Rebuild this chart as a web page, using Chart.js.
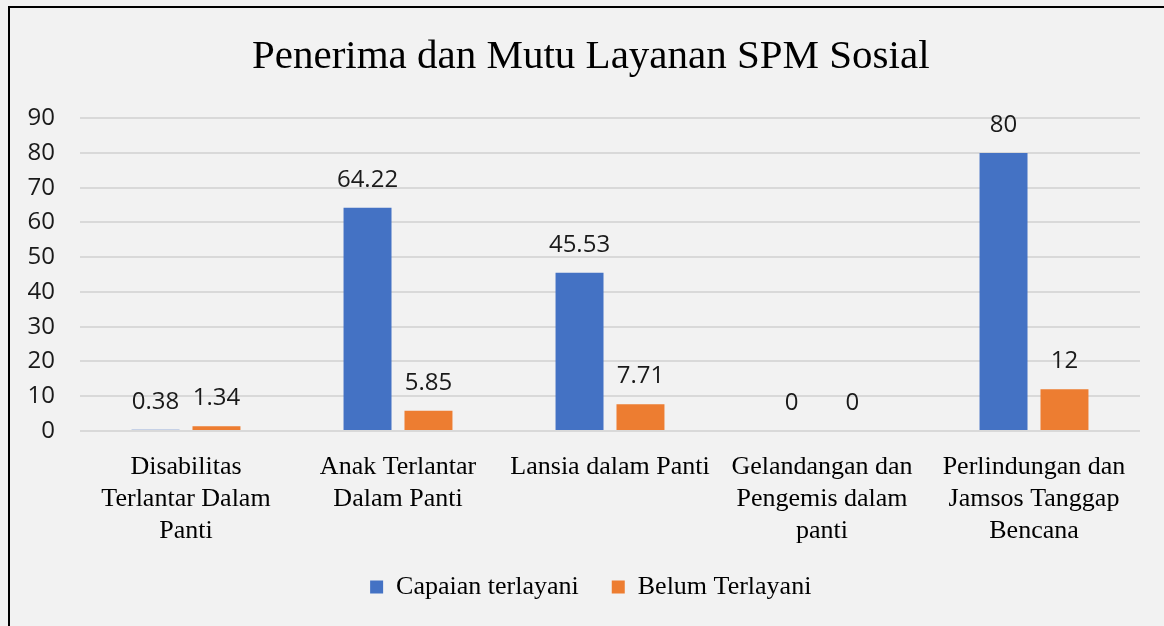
<!DOCTYPE html>
<html><head><meta charset="utf-8">
<script src="https://cdn.jsdelivr.net/npm/chart.js@4.4.1/dist/chart.umd.min.js"></script>
<style>
html,body{margin:0;padding:0;background:#f2f2f2;width:1164px;height:626px;overflow:hidden;}
#frame{position:absolute;left:8px;top:6px;width:1200px;height:700px;border-left:2px solid #000;border-top:2px solid #000;box-sizing:border-box;}
#wrap{position:absolute;left:10px;top:8px;width:1154px;height:618px;}
</style></head><body>
<div id="frame"></div>
<div id="wrap"><canvas id="c"></canvas></div>
<script>
const categories = [
  ["Disabilitas", "Terlantar Dalam", "Panti"],
  ["Anak Terlantar", "Dalam Panti"],
  ["Lansia dalam Panti"],
  ["Gelandangan dan", "Pengemis dalam", "panti"],
  ["Perlindungan dan", "Jamsos Tanggap", "Bencana"]
];
const seriesNames = ["Capaian terlayani", "Belum Terlayani"];
const capaianTerlayani = [0.38, 64.22, 45.53, 0, 80];
const belumTerlayani = [1.34, 5.85, 7.71, 0, 12];
const yTickValues = [0, 10, 20, 30, 40, 50, 60, 70, 80, 90];
const chartTitle = "Penerima dan Mutu Layanan SPM Sosial";

const valueLabels = {
  id: 'valueLabels',
  afterDatasetsDraw(chart) {
    const ctx = chart.ctx;
    ctx.save();
    ctx.font = '24px "Open Sans"';
    ctx.fillStyle = '#1a1a1a';
    ctx.textAlign = 'center';
    ctx.textBaseline = 'alphabetic';
    chart.data.datasets.forEach((ds, i) => {
      chart.getDatasetMeta(i).data.forEach((bar, j) => {
        ctx.fillText(String(ds.data[j]), bar.x, bar.y - 21);
      });
    });
    ctx.restore();
  }
};

new Chart(document.getElementById('c'), {
  type: 'bar',
  data: {
    labels: categories,
    datasets: [
      { label: seriesNames[0], data: capaianTerlayani, backgroundColor: '#4472C4', categoryPercentage: 0.575, barPercentage: 0.787 },
      { label: seriesNames[1], data: belumTerlayani, backgroundColor: '#ED7D31', categoryPercentage: 0.575, barPercentage: 0.787 }
    ]
  },
  options: {
    responsive: true,
    maintainAspectRatio: false,
    animation: false,
    layout: { padding: { left: 31.5, right: 24, top: 0, bottom: 16 } },
    plugins: {
      title: {
        display: true,
        text: chartTitle,
        color: '#000',
        font: { family: '"Liberation Serif"', size: 41, weight: 'normal' },
        padding: { top: 25, bottom: 36 }
      },
      legend: {
        position: 'bottom',
        labels: {
          color: '#000',
          font: { family: '"Liberation Serif"', size: 26 },
          boxWidth: 13, boxHeight: 13, padding: 33
        }
      },
      tooltip: { enabled: false }
    },
    scales: {
      x: {
        grid: { display: false },
        border: { display: false },
        afterFit(scale) { scale.paddingLeft = 0; scale.paddingRight = 0; scale.height = 110; scale._computeLabelArea = () => undefined; },
        ticks: {
          color: '#000', maxRotation: 0, autoSkip: false, padding: 12,
          font: { family: '"Liberation Serif"', size: 26, lineHeight: 32/26 }
        }
      },
      y: {
        min: 0, max: 90,
        afterBuildTicks(scale) { scale.ticks = yTickValues.map(v => ({ value: v })); },
        afterFit(scale) { scale.width = 38.5; scale._computeLabelArea = () => undefined; },
        grid: { color: '#d9d9d9', lineWidth: 2, drawTicks: false },
        border: { display: false },
        ticks: {
          color: '#1a1a1a', padding: 25,
          font: { family: '"Open Sans"', size: 24 }
        }
      }
    }
  },
  plugins: [valueLabels]
});
</script>
</body></html>
